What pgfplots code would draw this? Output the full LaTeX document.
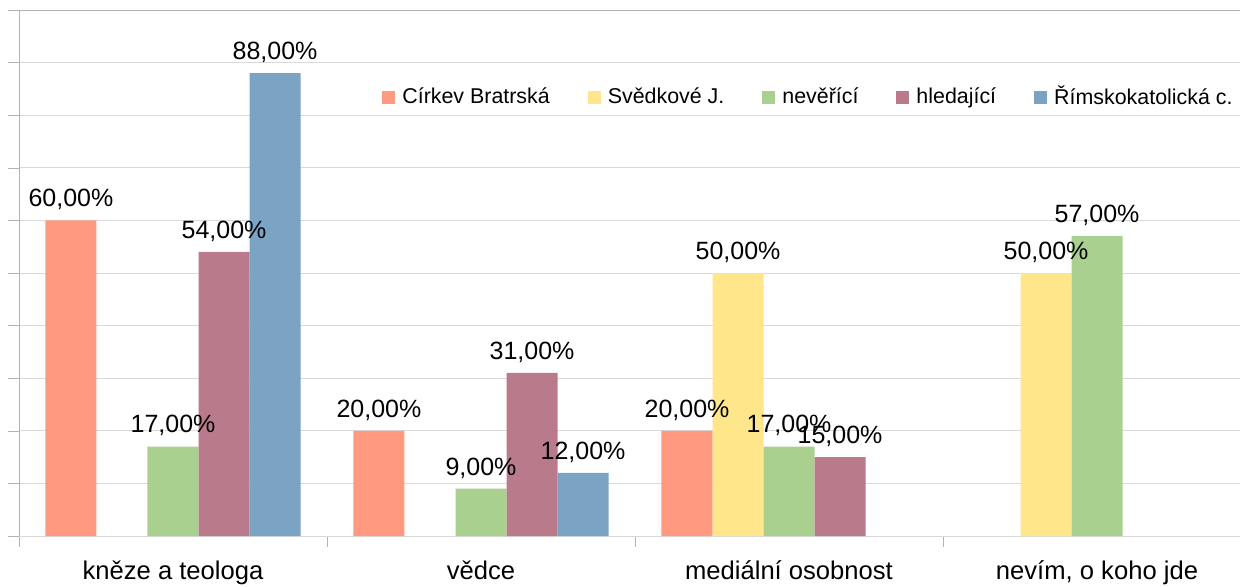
\documentclass[border=0pt]{standalone}
\usepackage{pgfplots}
\pgfplotsset{compat=1.18}
\usepackage{pgfplotstable}
\usepackage{fontspec}
\setmainfont{Liberation Sans}
\definecolor{cSalmon}{HTML}{FF9A80}
\definecolor{cYellow}{HTML}{FFE68A}
\definecolor{cGreen}{HTML}{A9D08E}
\definecolor{cMauve}{HTML}{B97B8B}
\definecolor{cBlue}{HTML}{7BA3C4}
\definecolor{gridgray}{HTML}{D9D9D9}
\definecolor{axisgray}{HTML}{B3B3B3}
\pgfplotstableread{
x y
0 60
1 20
2 20
}\cirkev
\pgfplotstableread{
x y
2 50
3 50
}\svedkove
\pgfplotstableread{
x y
0 17
1 9
2 17
3 57
}\neverici
\pgfplotstableread{
x y
0 54
1 31
2 15
}\hledajici
\pgfplotstableread{
x y
0 88
1 12
}\rimsko
\pgfplotsset{
  sqlegend/.style={legend image code/.code={\path[##1,draw=none] (0pt,-3.25pt) rectangle (6.5pt,3.25pt);}},
  mybar/.style={ybar, bar width=0.1656, draw=none, fill=#1, sqlegend},
  mylab/.style={draw=none, mark=none, forget plot, point meta=y,
    nodes near coords={\pgfmathprintnumber[assume math mode=true,fixed,fixed zerofill,precision=2,use comma]{\pgfplotspointmeta}\%},
    every node near coord/.append style={font=\fontsize{12.5}{14}\selectfont, inner sep=0pt, anchor=south, yshift=5pt, text=black}},
}
\begin{document}
\begin{tikzpicture}
\useasboundingbox (-9.5pt,-25pt) rectangle (610.5pt,268pt);
\begin{axis}[
  at={(0pt,0pt)}, anchor=south west,
  scale only axis, width=616pt, height=263pt,
  xmin=-0.5, xmax=3.5, ymin=0, ymax=100,
  axis x line*=bottom, axis y line*=left,
  x axis line style={color=gridgray},
  y axis line style={color=axisgray},
  xtick={-0.5,0.5,1.5,2.5,3.5},
  xticklabels={kněze a teologa, vědce, mediální osobnost, {nevím, o koho jde}},
  x tick label as interval,
  ytick={0,10,...,100}, yticklabels={},
  ymajorgrids, major grid style={gridgray},
  tick align=outside, major tick length=5.5pt,
  tick style={axisgray},
  xticklabel style={font=\fontsize{12.8}{14}\selectfont, anchor=base, yshift=-16pt},
  legend style={at={(0.2946,0.8346)}, anchor=west, draw=none, fill=none, inner sep=0pt,
    font=\fontsize{10.7}{12}\selectfont,
    /tikz/every odd column/.append style={column sep=1.5pt},
    /tikz/every even column/.append style={column sep=17pt}},
  legend columns=5,
  clip=false,
]
\addplot[mybar=cSalmon, bar shift=-0.3312] table {\cirkev};
\addlegendentry{Církev Bratrská}
\addplot[mybar=cYellow, bar shift=-0.1656] table {\svedkove};
\addlegendentry{Svědkové J.}
\addplot[mybar=cGreen, bar shift=0] table {\neverici};
\addlegendentry{nevěřící}
\addplot[mybar=cMauve, bar shift=0.1656] table {\hledajici};
\addlegendentry{hledající}
\addplot[mybar=cBlue, bar shift=0.3312] table {\rimsko};
\addlegendentry{Římskokatolická c.}
\draw[axisgray] (rel axis cs:0,1) -- (rel axis cs:1,1);
\addplot[mylab] table[x expr=\thisrow{x}-0.3312] {\cirkev};
\addplot[mylab] table[x expr=\thisrow{x}-0.1656] {\svedkove};
\addplot[mylab] table[x expr=\thisrow{x}] {\neverici};
\addplot[mylab] table[x expr=\thisrow{x}+0.1656] {\hledajici};
\addplot[mylab] table[x expr=\thisrow{x}+0.3312] {\rimsko};
\end{axis}
\end{tikzpicture}
\end{document}
